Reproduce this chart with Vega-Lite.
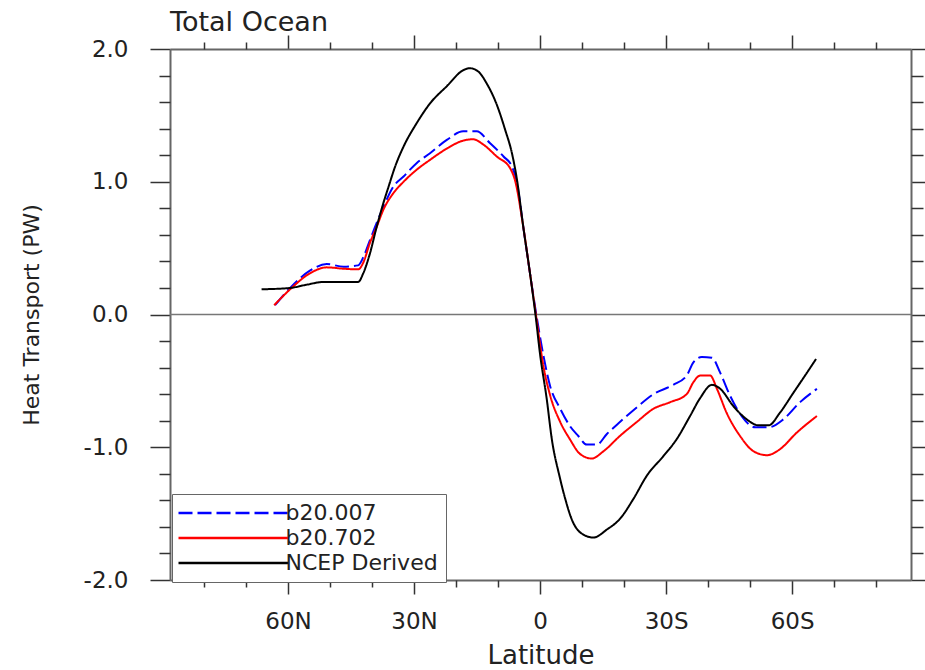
{
  "$schema": "https://vega.github.io/schema/vega-lite/v6.json",
  "width": 741,
  "height": 531,
  "autosize": {"type": "none"},
  "padding": {"left": 170, "top": 49, "right": 14, "bottom": 90},
  "background": "white",
  "config": {
    "font": "DejaVu Sans",
    "view": {"stroke": null},
    "axis": {"grid": false, "domainColor": "#666", "domainWidth": 2, "tickColor": "#333", "tickWidth": 1.5, "labelColor": "#222", "titleColor": "#222", "labelFontSize": 23, "titleFontWeight": "normal", "labelFontWeight": "normal"}
  },
  "title": {"text": "Total Ocean", "anchor": "start", "frame": "group", "fontSize": 27, "fontWeight": "normal", "color": "#222", "offset": -3},
  "data": {"values": [
    {"s": "b20.007", "lat": 63.1, "v": 0.07},
    {"s": "b20.007", "lat": 59.5, "v": 0.2},
    {"s": "b20.007", "lat": 54.8, "v": 0.33},
    {"s": "b20.007", "lat": 50.8, "v": 0.38},
    {"s": "b20.007", "lat": 46.8, "v": 0.36},
    {"s": "b20.007", "lat": 43.3, "v": 0.37},
    {"s": "b20.007", "lat": 42.1, "v": 0.43},
    {"s": "b20.007", "lat": 40.5, "v": 0.56},
    {"s": "b20.007", "lat": 38.9, "v": 0.69},
    {"s": "b20.007", "lat": 37.3, "v": 0.81},
    {"s": "b20.007", "lat": 34.9, "v": 0.965},
    {"s": "b20.007", "lat": 32.5, "v": 1.04},
    {"s": "b20.007", "lat": 29.4, "v": 1.14},
    {"s": "b20.007", "lat": 26.2, "v": 1.215},
    {"s": "b20.007", "lat": 22.2, "v": 1.315},
    {"s": "b20.007", "lat": 18.3, "v": 1.38},
    {"s": "b20.007", "lat": 15.1, "v": 1.38},
    {"s": "b20.007", "lat": 11.9, "v": 1.29},
    {"s": "b20.007", "lat": 8.7, "v": 1.19},
    {"s": "b20.007", "lat": 6.7, "v": 1.115},
    {"s": "b20.007", "lat": 5.5, "v": 0.99},
    {"s": "b20.007", "lat": 4.0, "v": 0.66},
    {"s": "b20.007", "lat": 2.4, "v": 0.31},
    {"s": "b20.007", "lat": 1.0, "v": 0.02},
    {"s": "b20.007", "lat": -0.8, "v": -0.31},
    {"s": "b20.007", "lat": -2.4, "v": -0.54},
    {"s": "b20.007", "lat": -4.8, "v": -0.71},
    {"s": "b20.007", "lat": -7.1, "v": -0.84},
    {"s": "b20.007", "lat": -9.1, "v": -0.915},
    {"s": "b20.007", "lat": -11.1, "v": -0.98},
    {"s": "b20.007", "lat": -13.5, "v": -0.98},
    {"s": "b20.007", "lat": -15.9, "v": -0.9},
    {"s": "b20.007", "lat": -19.0, "v": -0.81},
    {"s": "b20.007", "lat": -23.0, "v": -0.7},
    {"s": "b20.007", "lat": -27.0, "v": -0.6},
    {"s": "b20.007", "lat": -31.7, "v": -0.53},
    {"s": "b20.007", "lat": -34.9, "v": -0.46},
    {"s": "b20.007", "lat": -36.5, "v": -0.36},
    {"s": "b20.007", "lat": -38.5, "v": -0.32},
    {"s": "b20.007", "lat": -40.9, "v": -0.325},
    {"s": "b20.007", "lat": -42.9, "v": -0.44},
    {"s": "b20.007", "lat": -45.2, "v": -0.61},
    {"s": "b20.007", "lat": -48.0, "v": -0.765},
    {"s": "b20.007", "lat": -51.2, "v": -0.85},
    {"s": "b20.007", "lat": -54.4, "v": -0.85},
    {"s": "b20.007", "lat": -57.9, "v": -0.79},
    {"s": "b20.007", "lat": -61.9, "v": -0.66},
    {"s": "b20.007", "lat": -65.9, "v": -0.56},
    {"s": "b20.702", "lat": 63.3, "v": 0.07},
    {"s": "b20.702", "lat": 59.5, "v": 0.19},
    {"s": "b20.702", "lat": 54.8, "v": 0.31},
    {"s": "b20.702", "lat": 50.8, "v": 0.355},
    {"s": "b20.702", "lat": 46.8, "v": 0.345},
    {"s": "b20.702", "lat": 43.3, "v": 0.34},
    {"s": "b20.702", "lat": 42.1, "v": 0.39},
    {"s": "b20.702", "lat": 40.5, "v": 0.54},
    {"s": "b20.702", "lat": 38.9, "v": 0.66},
    {"s": "b20.702", "lat": 37.3, "v": 0.79},
    {"s": "b20.702", "lat": 34.9, "v": 0.915},
    {"s": "b20.702", "lat": 32.5, "v": 1.0},
    {"s": "b20.702", "lat": 29.4, "v": 1.09},
    {"s": "b20.702", "lat": 26.2, "v": 1.165},
    {"s": "b20.702", "lat": 22.2, "v": 1.25},
    {"s": "b20.702", "lat": 18.3, "v": 1.31},
    {"s": "b20.702", "lat": 15.9, "v": 1.32},
    {"s": "b20.702", "lat": 13.5, "v": 1.28},
    {"s": "b20.702", "lat": 10.3, "v": 1.19},
    {"s": "b20.702", "lat": 7.1, "v": 1.1},
    {"s": "b20.702", "lat": 6.0, "v": 1.015},
    {"s": "b20.702", "lat": 4.0, "v": 0.66},
    {"s": "b20.702", "lat": 2.4, "v": 0.31},
    {"s": "b20.702", "lat": 1.0, "v": 0.0},
    {"s": "b20.702", "lat": -0.8, "v": -0.39},
    {"s": "b20.702", "lat": -2.4, "v": -0.61},
    {"s": "b20.702", "lat": -4.8, "v": -0.81},
    {"s": "b20.702", "lat": -7.1, "v": -0.94},
    {"s": "b20.702", "lat": -9.5, "v": -1.05},
    {"s": "b20.702", "lat": -12.3, "v": -1.085},
    {"s": "b20.702", "lat": -15.1, "v": -1.03},
    {"s": "b20.702", "lat": -19.0, "v": -0.915},
    {"s": "b20.702", "lat": -23.0, "v": -0.81},
    {"s": "b20.702", "lat": -27.0, "v": -0.71},
    {"s": "b20.702", "lat": -31.0, "v": -0.66},
    {"s": "b20.702", "lat": -34.9, "v": -0.6},
    {"s": "b20.702", "lat": -36.5, "v": -0.51},
    {"s": "b20.702", "lat": -38.1, "v": -0.46},
    {"s": "b20.702", "lat": -40.5, "v": -0.46},
    {"s": "b20.702", "lat": -42.1, "v": -0.56},
    {"s": "b20.702", "lat": -44.4, "v": -0.74},
    {"s": "b20.702", "lat": -47.6, "v": -0.915},
    {"s": "b20.702", "lat": -50.8, "v": -1.03},
    {"s": "b20.702", "lat": -54.0, "v": -1.06},
    {"s": "b20.702", "lat": -57.1, "v": -1.015},
    {"s": "b20.702", "lat": -61.1, "v": -0.89},
    {"s": "b20.702", "lat": -65.9, "v": -0.765},
    {"s": "NCEP Derived", "lat": 66.3, "v": 0.19},
    {"s": "NCEP Derived", "lat": 59.5, "v": 0.2},
    {"s": "NCEP Derived", "lat": 55.5, "v": 0.225},
    {"s": "NCEP Derived", "lat": 51.6, "v": 0.245},
    {"s": "NCEP Derived", "lat": 46.8, "v": 0.245},
    {"s": "NCEP Derived", "lat": 43.3, "v": 0.245},
    {"s": "NCEP Derived", "lat": 42.1, "v": 0.31},
    {"s": "NCEP Derived", "lat": 40.5, "v": 0.46},
    {"s": "NCEP Derived", "lat": 38.9, "v": 0.66},
    {"s": "NCEP Derived", "lat": 37.3, "v": 0.84},
    {"s": "NCEP Derived", "lat": 36.1, "v": 0.96},
    {"s": "NCEP Derived", "lat": 34.5, "v": 1.115},
    {"s": "NCEP Derived", "lat": 32.5, "v": 1.265},
    {"s": "NCEP Derived", "lat": 29.4, "v": 1.44},
    {"s": "NCEP Derived", "lat": 26.2, "v": 1.59},
    {"s": "NCEP Derived", "lat": 22.2, "v": 1.72},
    {"s": "NCEP Derived", "lat": 18.3, "v": 1.84},
    {"s": "NCEP Derived", "lat": 16.7, "v": 1.855},
    {"s": "NCEP Derived", "lat": 14.7, "v": 1.83},
    {"s": "NCEP Derived", "lat": 12.7, "v": 1.74},
    {"s": "NCEP Derived", "lat": 10.3, "v": 1.58},
    {"s": "NCEP Derived", "lat": 8.3, "v": 1.39},
    {"s": "NCEP Derived", "lat": 6.7, "v": 1.215},
    {"s": "NCEP Derived", "lat": 5.5, "v": 1.015},
    {"s": "NCEP Derived", "lat": 4.0, "v": 0.66},
    {"s": "NCEP Derived", "lat": 2.4, "v": 0.31},
    {"s": "NCEP Derived", "lat": 1.1, "v": 0.0},
    {"s": "NCEP Derived", "lat": 0.0, "v": -0.3},
    {"s": "NCEP Derived", "lat": -1.6, "v": -0.64},
    {"s": "NCEP Derived", "lat": -2.8, "v": -0.94},
    {"s": "NCEP Derived", "lat": -4.6, "v": -1.215},
    {"s": "NCEP Derived", "lat": -6.0, "v": -1.39},
    {"s": "NCEP Derived", "lat": -7.5, "v": -1.54},
    {"s": "NCEP Derived", "lat": -9.9, "v": -1.65},
    {"s": "NCEP Derived", "lat": -12.7, "v": -1.68},
    {"s": "NCEP Derived", "lat": -15.9, "v": -1.62},
    {"s": "NCEP Derived", "lat": -19.0, "v": -1.54},
    {"s": "NCEP Derived", "lat": -22.2, "v": -1.39},
    {"s": "NCEP Derived", "lat": -25.4, "v": -1.215},
    {"s": "NCEP Derived", "lat": -29.4, "v": -1.065},
    {"s": "NCEP Derived", "lat": -32.5, "v": -0.94},
    {"s": "NCEP Derived", "lat": -35.7, "v": -0.765},
    {"s": "NCEP Derived", "lat": -38.1, "v": -0.63},
    {"s": "NCEP Derived", "lat": -40.9, "v": -0.53},
    {"s": "NCEP Derived", "lat": -42.9, "v": -0.56},
    {"s": "NCEP Derived", "lat": -46.0, "v": -0.69},
    {"s": "NCEP Derived", "lat": -49.2, "v": -0.79},
    {"s": "NCEP Derived", "lat": -52.0, "v": -0.835},
    {"s": "NCEP Derived", "lat": -54.4, "v": -0.835},
    {"s": "NCEP Derived", "lat": -57.1, "v": -0.74},
    {"s": "NCEP Derived", "lat": -60.3, "v": -0.59},
    {"s": "NCEP Derived", "lat": -63.5, "v": -0.44},
    {"s": "NCEP Derived", "lat": -65.7, "v": -0.335}
  ]},
  "resolve": {"axis": {"x": "independent", "y": "independent"}},
  "layer": [
    {
      "data": {"values": [{"ref": "zero"}]},
      "mark": {"type": "rule", "color": "#777", "strokeWidth": 1.5},
      "encoding": {
        "y": {"datum": 0, "type": "quantitative", "scale": {"domain": [-2, 2], "nice": false, "zero": false}, "axis": null}
      }
    },
    {
      "mark": {"type": "line", "strokeWidth": 2, "interpolate": "monotone"},
      "encoding": {
        "x": {"field": "lat", "type": "quantitative", "scale": {"domain": [-88.3, 88.1], "reverse": true, "nice": false, "zero": false},
          "axis": {"orient": "bottom", "values": [60, 30, 0, -30, -60], "labelExpr": "datum.value > 0 ? datum.value + 'N' : (datum.value < 0 ? (-datum.value) + 'S' : '0')", "tickSize": 14, "labelPadding": 16, "title": "Latitude", "titleFontSize": 26, "titleX": 370.5, "titleY": 83, "titleBaseline": "alphabetic", "titleAlign": "center"}},
        "y": {"field": "v", "type": "quantitative", "scale": {"domain": [-2, 2], "nice": false, "zero": false},
          "axis": {"orient": "left", "values": [-2, -1, 0, 1, 2], "labelExpr": "datum.value < 0 ? '-' + format(-datum.value, '.1f') : format(datum.value, '.1f')", "tickSize": 20, "labelPadding": 22, "title": "Heat Transport (PW)", "titleFontSize": 22, "titleX": -139, "titleY": 265.5, "titleAngle": -90, "titleAlign": "center", "titleBaseline": "middle"}},
        "color": {"field": "s", "type": "nominal", "scale": {"domain": ["b20.007", "b20.702", "NCEP Derived"], "range": ["#0000ff", "#ff0000", "#000000"]},
          "legend": {"title": null, "orient": "none", "legendX": 2, "legendY": 445, "symbolType": "M0,0H20", "symbolSize": 121, "symbolStrokeWidth": 2.5, "symbolOffset": -12.5, "labelOffset": 96, "padding": 8, "strokeColor": "#666", "fillColor": "white", "labelFontSize": 22, "labelColor": "#222", "rowPadding": 3}},
        "strokeDash": {"field": "s", "type": "nominal", "scale": {"domain": ["b20.007", "b20.702", "NCEP Derived"], "range": [[14, 5], [1, 0], [1, 0]]},
          "legend": {"title": null, "orient": "none", "legendX": 2, "legendY": 445, "symbolType": "M0,0H20", "symbolSize": 121, "symbolStrokeWidth": 2.5, "symbolOffset": -12.5, "labelOffset": 96, "padding": 8, "strokeColor": "#666", "fillColor": "white", "labelFontSize": 22, "labelColor": "#222", "rowPadding": 3}}
      }
    },
    {
      "mark": {"type": "point", "opacity": 0},
      "encoding": {
        "x": {"field": "lat", "type": "quantitative", "scale": {"domain": [-88.3, 88.1], "reverse": true, "nice": false, "zero": false},
          "axis": {"orient": "bottom", "values": [80, 70, 50, 40, 20, 10, -10, -20, -40, -50, -70, -80], "labels": false, "tickSize": 7, "domain": false, "title": null}},
        "y": {"field": "v", "type": "quantitative", "scale": {"domain": [-2, 2], "nice": false, "zero": false},
          "axis": {"orient": "left", "values": [-1.8, -1.6, -1.4, -1.2, -0.8, -0.6, -0.4, -0.2, 0.2, 0.4, 0.6, 0.8, 1.2, 1.4, 1.6, 1.8], "labels": false, "tickSize": 11, "domain": false, "title": null}}
      }
    },
    {
      "mark": {"type": "point", "opacity": 0},
      "encoding": {
        "x": {"field": "lat", "type": "quantitative", "scale": {"domain": [-88.3, 88.1], "reverse": true, "nice": false, "zero": false},
          "axis": {"orient": "top", "values": [60, 30, 0, -30, -60], "labels": false, "tickSize": 14, "title": null}},
        "y": {"field": "v", "type": "quantitative", "scale": {"domain": [-2, 2], "nice": false, "zero": false},
          "axis": {"orient": "right", "values": [-2, -1, 0, 1, 2], "labels": false, "tickSize": 14, "title": null}}
      }
    },
    {
      "mark": {"type": "point", "opacity": 0},
      "encoding": {
        "x": {"field": "lat", "type": "quantitative", "scale": {"domain": [-88.3, 88.1], "reverse": true, "nice": false, "zero": false},
          "axis": {"orient": "top", "values": [80, 70, 50, 40, 20, 10, -10, -20, -40, -50, -70, -80], "labels": false, "tickSize": 7, "domain": false, "title": null}},
        "y": {"field": "v", "type": "quantitative", "scale": {"domain": [-2, 2], "nice": false, "zero": false},
          "axis": {"orient": "right", "values": [-1.8, -1.6, -1.4, -1.2, -0.8, -0.6, -0.4, -0.2, 0.2, 0.4, 0.6, 0.8, 1.2, 1.4, 1.6, 1.8], "labels": false, "tickSize": 12, "domain": false, "title": null}}
      }
    }
  ]
}
